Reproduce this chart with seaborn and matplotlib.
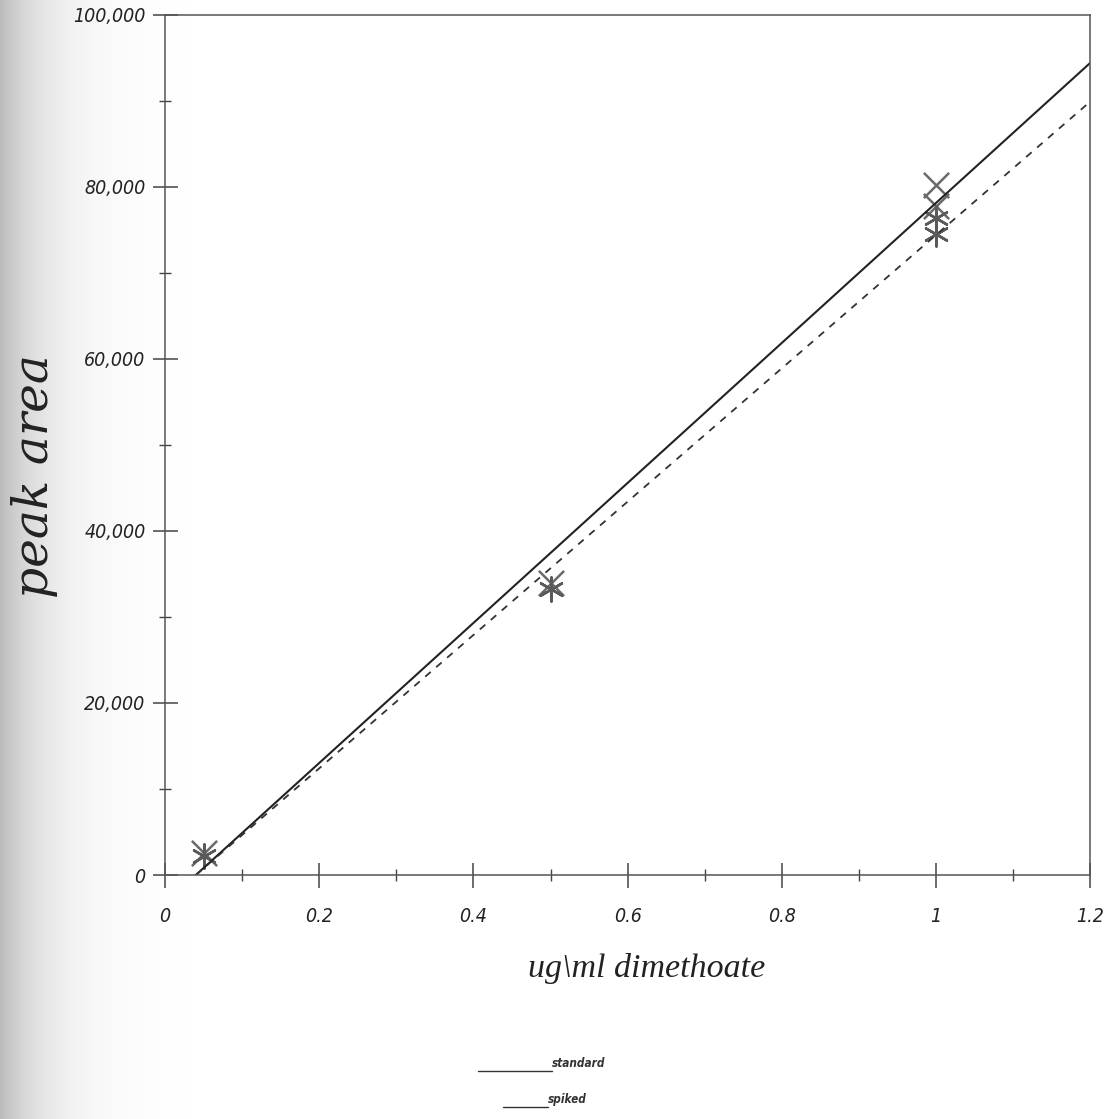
import numpy as np
import matplotlib
matplotlib.use('Agg')
import matplotlib.pyplot as plt
import seaborn as sns
from matplotlib import font_manager as fm
from matplotlib.lines import Line2D
from matplotlib.ticker import MultipleLocator, FuncFormatter

# calibration data
std_x = [0.05, 0.5, 1.0, 1.0]
std_y = [2600, 33900, 80200, 77800]
spk_x = [0.05, 0.5, 1.0, 1.0]
spk_y = [2200, 33300, 76400, 74500]

# fitted lines (end points)
std_line_x = [0.04, 1.2]
std_line_y = [0, 94400]
spk_line_x = [0.04, 1.2]
spk_line_y = [0, 89900]

x_ticks = [0, 0.2, 0.4, 0.6, 0.8, 1, 1.2]
x_labels = ['0', '0.2', '0.4', '0.6', '0.8', '1', '1.2']

sns.set_style('white')
plt.rcParams['font.family'] = ['Liberation Sans', 'DejaVu Sans']


def pick_narrow(size, bold=False):
    # look for a condensed italic face, else plain italic sans
    cands = []
    for f in fm.fontManager.ttflist:
        narrow = ('Narrow' in f.name or 'Condensed' in f.name
                  or f.stretch in ('condensed', 'semi-condensed', 'extra-condensed'))
        if narrow and f.style in ('italic', 'oblique'):
            cands.append(f)
    if cands:
        cands.sort(key=lambda f: (abs((700 if bold else 400) - (f.weight if isinstance(f.weight, int) else 400)),
                                  'Liberation' not in f.name))
        return fm.FontProperties(fname=cands[0].fname, size=size)
    return fm.FontProperties(family='Liberation Sans', style='italic', size=size * 0.85,
                             weight='bold' if bold else 'normal')


tick_fp = pick_narrow(14)
leg_fp = pick_narrow(8.5, bold=True)

fig = plt.figure(figsize=(11.07, 11.19), dpi=100)

# scanner shading on the left edge
bg = fig.add_axes([0, 0, 1, 1], zorder=-5)
cols = np.arange(1107)
grad = np.tile(1 - 0.27 * np.exp(-cols / 45.0), (2, 1))
bg.imshow(grad, cmap='gray', vmin=0, vmax=1, aspect='auto', extent=[0, 1, 0, 1])
bg.axis('off')

ax = fig.add_axes([0.149, 0.218, 0.836, 0.769])
ax.patch.set_alpha(0)

sns.lineplot(x=std_line_x, y=std_line_y, ax=ax, color='#222222', lw=1.5)
sns.lineplot(x=spk_line_x, y=spk_line_y, ax=ax, color='#333333', lw=1.3,
             linestyle=(0, (4, 4)))
sns.scatterplot(x=std_x, y=std_y, ax=ax, marker='x', s=330, color='#6a6a6a', linewidth=1.8)
sns.scatterplot(x=spk_x, y=spk_y, ax=ax, marker=(6, 2, 0), s=300, color='#5a5a5a', linewidth=1.8)

ax.set_xlim(0, 1.2)
ax.set_ylim(0, 100000)
ax.set_xticks(x_ticks)
ax.set_xticklabels(x_labels)
ax.xaxis.set_minor_locator(MultipleLocator(0.1))
ax.yaxis.set_major_locator(MultipleLocator(20000))
ax.yaxis.set_minor_locator(MultipleLocator(10000))
ax.yaxis.set_major_formatter(FuncFormatter(lambda v, p: f'{int(v):,}'))

ax.tick_params(which='both', bottom=True, left=True, top=False, right=False)
ax.tick_params(which='major', direction='inout', length=18, width=1.1, color='#444444',
               labelcolor='#222222')
ax.tick_params(which='minor', direction='inout', length=8, width=1.0, color='#444444')
ax.tick_params(axis='x', which='major', pad=14)
ax.tick_params(axis='y', which='major', pad=5)
for lab in ax.get_xticklabels() + ax.get_yticklabels():
    lab.set_fontproperties(tick_fp)

for sp in ax.spines.values():
    sp.set_color('#555555')
    sp.set_linewidth(1.1)

ax.set_xlabel('ug\\ml dimethoate', family=['Liberation Serif'], style='italic',
              fontsize=24.5, color='#222222')
ax.xaxis.set_label_coords(0.52, -0.09)
ax.set_ylabel('')
fig.text(35 / 1107, 1 - 476 / 1119, 'peak area', rotation=90, ha='center', va='center',
         family=['DejaVu Serif'], style='italic', fontsize=35, color='#222222')

# key below the chart: short line then label
key = [('standard', 478, 552, 1071), ('spiked', 503, 548, 1107)]
for name, x0, x1, yb in key:
    fig.add_artist(Line2D([x0 / 1107, x1 / 1107], [1 - yb / 1119] * 2,
                          color='#333333', lw=1.0))
    fig.text(x1 / 1107, 1 - (yb - 4) / 1119, name, ha='left', va='baseline',
             fontproperties=leg_fp, color='#333333')

fig.savefig('out.png', dpi=100)
